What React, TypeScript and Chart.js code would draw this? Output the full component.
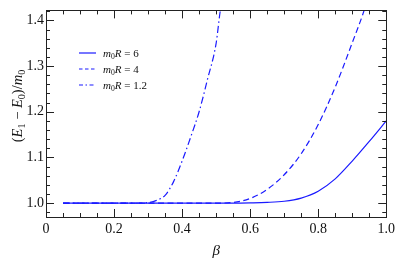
import React, { useEffect, useRef } from 'react';
import { Chart, registerables } from 'chart.js';

Chart.register(...registerables);

// m0R = 6 (solid)
const betaR6 = [0.05, 0.55, 0.6, 0.65, 0.7, 0.75, 0.8, 0.85, 0.9, 0.95, 1.0];
const valR6 = [1.0, 1.0, 1.0005, 1.0015, 1.004, 1.011, 1.026, 1.053, 1.092, 1.135, 1.18];

// m0R = 4 (dashed)
const betaR4 = [0.05, 0.5, 0.55, 0.6, 0.65, 0.7, 0.75, 0.8, 0.85, 0.9, 0.935, 0.95];
const valR4 = [1.0, 1.0, 1.0015, 1.01, 1.03, 1.062, 1.108, 1.172, 1.254, 1.351, 1.422, 1.46];

// m0R = 1.2 (dash-dot)
const betaR12 = [0.05, 0.26, 0.3, 0.325, 0.35, 0.375, 0.4, 0.425, 0.45, 0.475, 0.5, 0.512, 0.525];
const valR12 = [1.0, 1.0, 1.001, 1.006, 1.017, 1.047, 1.092, 1.144, 1.2, 1.272, 1.35, 1.42, 1.47];

const seriesLabels = ['6', '4', '1.2'];

const xMajor = [0, 0.2, 0.4, 0.6, 0.8, 1.0];
const xMinor = [0.05, 0.1, 0.15, 0.25, 0.3, 0.35, 0.45, 0.5, 0.55, 0.65, 0.7, 0.75, 0.85, 0.9, 0.95];
const yMajor = [1.0, 1.1, 1.2, 1.3, 1.4];
const yMinor = [0.98, 1.02, 1.04, 1.06, 1.08, 1.12, 1.14, 1.16, 1.18, 1.22, 1.24, 1.26, 1.28, 1.32, 1.34, 1.36, 1.38, 1.42];

const X_MIN = 0;
const X_MAX = 1.0;
const Y_MIN = 0.9695;
const Y_MAX = 1.422;

const BLUE = '#1a1aff';
const SERIF = "'Liberation Serif', 'DejaVu Serif', serif";

type Part = { t: string; it?: boolean; sub?: boolean };

function partFont(p: Part, size: number) {
  const s = p.sub ? size * 0.7 : size;
  return `${p.it ? 'italic ' : ''}${s}px ${SERIF}`;
}

function richWidth(ctx: CanvasRenderingContext2D, parts: Part[], size: number) {
  let w = 0;
  for (const p of parts) {
    ctx.font = partFont(p, size);
    w += ctx.measureText(p.t).width;
  }
  return w;
}

function drawRich(ctx: CanvasRenderingContext2D, parts: Part[], x: number, y: number, size: number) {
  let cx = x;
  ctx.textBaseline = 'alphabetic';
  ctx.textAlign = 'left';
  for (const p of parts) {
    ctx.font = partFont(p, size);
    ctx.fillText(p.t, cx, p.sub ? y + size * 0.22 : y);
    cx += ctx.measureText(p.t).width;
  }
}

const framePlugin = {
  id: 'framePlugin',
  afterDraw(chart: any) {
    const ctx: CanvasRenderingContext2D = chart.ctx;
    const { left, right, top, bottom } = chart.chartArea;
    const xs = chart.scales.x;
    const ys = chart.scales.y;
    ctx.save();
    ctx.strokeStyle = '#222';
    ctx.lineWidth = 1;
    ctx.setLineDash([]);
    ctx.strokeRect(Math.round(left) + 0.5, Math.round(top) + 0.5, Math.round(right - left), Math.round(bottom - top));

    const major = 8;
    const minor = 4;
    ctx.beginPath();
    const vx = (v: number, len: number) => {
      const px = Math.round(xs.getPixelForValue(v)) + 0.5;
      ctx.moveTo(px, bottom);
      ctx.lineTo(px, bottom - len);
      ctx.moveTo(px, top);
      ctx.lineTo(px, top + len);
    };
    const vy = (v: number, len: number) => {
      const py = Math.round(ys.getPixelForValue(v)) + 0.5;
      ctx.moveTo(left, py);
      ctx.lineTo(left + len, py);
      ctx.moveTo(right, py);
      ctx.lineTo(right - len, py);
    };
    xMajor.forEach((v) => vx(v, major));
    xMinor.forEach((v) => vx(v, minor));
    yMajor.forEach((v) => vy(v, major));
    yMinor.forEach((v) => vy(v, minor));
    ctx.stroke();

    // legend
    ctx.fillStyle = '#111';
    chart.data.datasets.forEach((ds: any, i: number) => {
      const ly = 53 + i * 16;
      ctx.strokeStyle = ds.borderColor;
      ctx.lineWidth = ds.borderWidth;
      ctx.setLineDash(ds.legendDash);
      ctx.beginPath();
      ctx.moveTo(79, ly);
      ctx.lineTo(96, ly);
      ctx.stroke();
      ctx.setLineDash([]);
      const parts: Part[] = [
        { t: 'm', it: true },
        { t: '0', sub: true },
        { t: 'R', it: true },
        { t: ' = ' + seriesLabels[i] },
      ];
      drawRich(ctx, parts, 103, ly + 3.5, 11);
    });

    // axis titles
    ctx.fillStyle = '#111';
    const xt: Part[] = [{ t: 'β', it: true }];
    const xw = richWidth(ctx, xt, 15);
    drawRich(ctx, xt, (left + right) / 2 - xw / 2, 255, 15);

    const yt: Part[] = [
      { t: '(' },
      { t: 'E', it: true },
      { t: '1', sub: true },
      { t: ' − ' },
      { t: 'E', it: true },
      { t: '0', sub: true },
      { t: ')/' },
      { t: 'm', it: true },
      { t: '0', sub: true },
    ];
    const yw = richWidth(ctx, yt, 14.5);
    ctx.translate(22, 106);
    ctx.rotate(-Math.PI / 2);
    drawRich(ctx, yt, -yw / 2, 0, 14.5);
    ctx.restore();
  },
};

export default function App() {
  const ref = useRef<HTMLCanvasElement | null>(null);

  useEffect(() => {
    document.body.style.margin = '0';
    const canvas = ref.current!;
    const mk = (bs: number[], vs: number[]) => bs.map((b, i) => ({ x: b, y: vs[i] }));
    const chart = new Chart(canvas, {
      type: 'line',
      data: {
        datasets: [
          {
            label: 'm0R = 6',
            data: mk(betaR6, valR6),
            borderColor: BLUE,
            borderWidth: 1.2,
            borderDash: [],
            legendDash: [],
            pointRadius: 0,
            cubicInterpolationMode: 'monotone',
            fill: false,
          } as any,
          {
            label: 'm0R = 4',
            data: mk(betaR4, valR4),
            borderColor: BLUE,
            borderWidth: 1.2,
            borderDash: [6, 3.5],
            legendDash: [3.5, 2.5],
            pointRadius: 0,
            cubicInterpolationMode: 'monotone',
            fill: false,
          } as any,
          {
            label: 'm0R = 1.2',
            data: mk(betaR12, valR12),
            borderColor: BLUE,
            borderWidth: 1.2,
            borderDash: [7, 3, 1.5, 3],
            legendDash: [4, 2.5, 1.5, 2.5],
            pointRadius: 0,
            cubicInterpolationMode: 'monotone',
            fill: false,
          } as any,
        ],
      },
      options: {
        animation: false,
        responsive: false,
        devicePixelRatio: 1,
        layout: { padding: { left: 0, right: 12, top: 5, bottom: 0 } },
        plugins: {
          legend: { display: false },
          tooltip: { enabled: false },
        },
        scales: {
          x: {
            type: 'linear',
            min: X_MIN,
            max: X_MAX,
            afterBuildTicks: (s: any) => {
              s.ticks = xMajor.map((v) => ({ value: v }));
            },
            afterFit: (s: any) => {
              s.height = 46;
            },
            grid: { display: false, drawTicks: false },
            border: { display: false },
            ticks: {
              padding: 4,
              maxRotation: 0,
              autoSkip: false,
              color: '#111',
              font: { family: SERIF, size: 14 },
              callback: (v: any) => (Number(v) === 0 ? '0' : Number(v).toFixed(1)),
            },
          },
          y: {
            type: 'linear',
            min: Y_MIN,
            max: Y_MAX,
            afterBuildTicks: (s: any) => {
              s.ticks = yMajor.map((v) => ({ value: v }));
            },
            afterFit: (s: any) => {
              s.width = 46;
            },
            grid: { display: false, drawTicks: false },
            border: { display: false },
            ticks: {
              padding: 2,
              autoSkip: false,
              color: '#111',
              font: { family: SERIF, size: 14 },
              callback: (v: any) => Number(v).toFixed(1),
            },
          },
        },
      },
      plugins: [framePlugin],
    });
    return () => chart.destroy();
  }, []);

  return (
    <div style={{ position: 'fixed', left: 0, top: 0, width: 399, height: 263, background: '#fff' }}>
      <canvas ref={ref} width={399} height={263} style={{ width: 399, height: 263 }} />
    </div>
  );
}
